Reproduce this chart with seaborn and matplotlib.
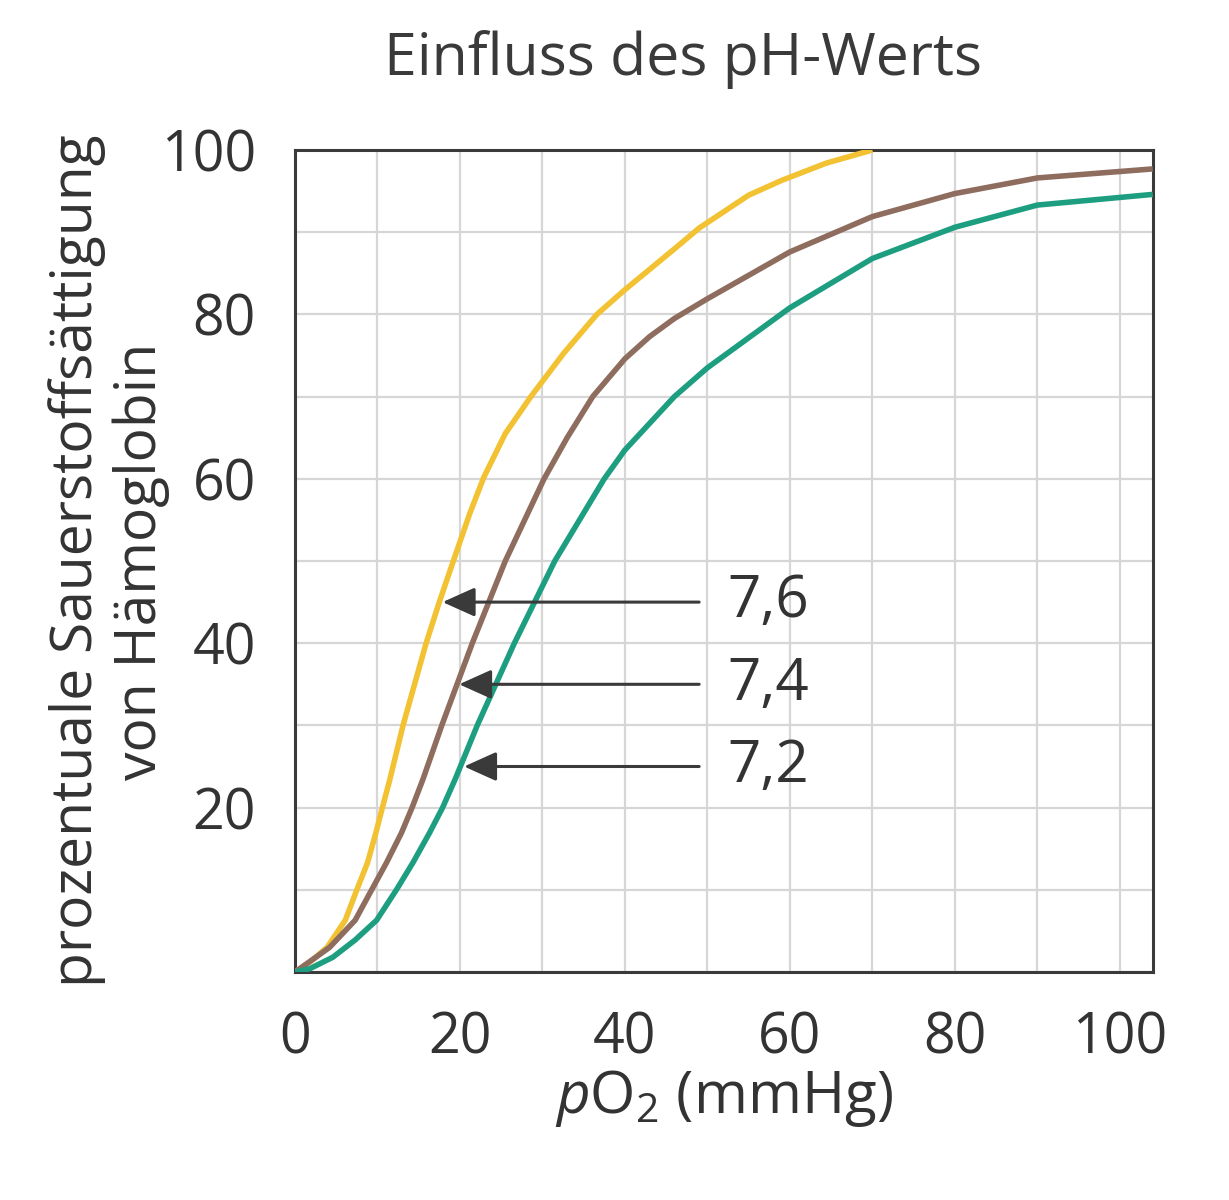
import numpy as np
import pandas as pd
import matplotlib
matplotlib.use("Agg")
import matplotlib.pyplot as plt
import seaborn as sns

# values (pO2 in mmHg, saturation in %)
po2_ph76 = [0, 1.8, 3.9, 6.1, 7.5, 8.8, 9.8, 10.6, 11.5, 13.1, 15.9, 17.5, 19.2, 21.2,
            22.9, 25.5, 28.6, 32.6, 36.6, 40, 45.8, 49, 55, 59, 64.4, 70]
sat_ph76 = [0, 1.2, 3.0, 6.3, 10, 13.3, 16.9, 20, 23.4, 30, 40, 45, 50, 55.8,
            60.2, 65.5, 70, 75.3, 80, 83, 87.8, 90.5, 94.5, 96.3, 98.4, 100]

po2_ph74 = [0, 2.4, 4.2, 7.3, 9.3, 11.1, 12.9, 14.2, 15.5, 17.8, 21.5, 25.5, 30.2,
            33, 36.1, 40, 43, 46, 50, 60, 70, 80, 90, 104]
sat_ph74 = [0, 1.7, 3.0, 6.3, 10, 13.3, 16.9, 20, 23.4, 30, 40, 50, 60,
            65, 70, 74.6, 77.3, 79.5, 81.9, 87.6, 91.9, 94.7, 96.6, 97.7]

po2_ph72 = [0, 1.8, 4.6, 7.3, 9.9, 12.3, 14.3, 16.3, 17.9, 19.4, 22.1, 26.6, 31.5,
            37.5, 40, 46, 50, 60, 70, 80, 90, 104]
sat_ph72 = [0, 0.4, 1.8, 3.9, 6.3, 10, 13.3, 16.9, 20, 23.4, 30, 40, 50,
            60, 63.5, 70, 73.5, 80.8, 86.8, 90.6, 93.3, 94.6]

ph_labels = ["7,6", "7,4", "7,2"]
arrow_tip_x = [17.9, 19.9, 20.5]
arrow_y = [45, 35, 25]
arrow_tail_x = 49
label_x = 52.4

colors = {"7,6": "#F2C232", "7,4": "#8E6D5F", "7,2": "#1E9E80"}

df = pd.concat([
    pd.DataFrame({"pO2": po2_ph76, "sat": sat_ph76, "pH": "7,6"}),
    pd.DataFrame({"pO2": po2_ph74, "sat": sat_ph74, "pH": "7,4"}),
    pd.DataFrame({"pO2": po2_ph72, "sat": sat_ph72, "pH": "7,2"}),
], ignore_index=True)

sns.set_theme(style="white")
plt.rcParams["font.family"] = ["Open Sans", "DejaVu Sans"]
plt.rcParams["mathtext.fontset"] = "custom"
plt.rcParams["mathtext.rm"] = "Open Sans"
plt.rcParams["mathtext.it"] = "Open Sans:italic"

dark = "#3a3a3a"
fig = plt.figure(figsize=(12.29, 12), dpi=100)
ax = fig.add_axes([0.240, 0.19, 0.698, 0.685])

sns.lineplot(data=df, x="pO2", y="sat", hue="pH", palette=colors,
             estimator=None, sort=False, legend=False, ax=ax, zorder=3)
for ln in ax.get_lines():
    ln.set_linewidth(4.0)
    ln.set_solid_joinstyle("round")
    ln.set_solid_capstyle("butt")

ax.set_xlim(0, 104)
ax.set_ylim(0, 100)
ax.set_xticks(np.arange(0, 101, 20))
ax.set_xticks(np.arange(10, 101, 20), minor=True)
ax.set_yticks(np.arange(0, 101, 20))
ax.set_yticks([10, 30, 50, 70, 90], minor=True)
ax.set_yticklabels(["", "20", "40", "60", "80", "100"])
ax.grid(which="both", color="#d6d6d6", linewidth=1.6)
ax.set_axisbelow(True)

for sp in ax.spines.values():
    sp.set_color(dark)
    sp.set_linewidth(2.2)

ax.tick_params(which="both", direction="out", length=18, width=2, color=dark,
               labelsize=40, labelcolor="#333333", pad=10)

# arrows and pH labels
for lab, tx, y in zip(ph_labels, arrow_tip_x, arrow_y):
    ax.annotate("", xy=(tx, y), xytext=(arrow_tail_x, y),
                arrowprops=dict(arrowstyle="-|>,head_length=1.0,head_width=0.45",
                                color=dark, lw=2.2, shrinkA=0, shrinkB=0,
                                mutation_scale=20), zorder=4)
    ax.text(label_x, y, lab, fontsize=42, color="#333333", ha="left", va="center")

ax.set_xlabel(r"$\mathit{p}\mathrm{O}_2$ (mmHg)", fontsize=42, color="#333333", labelpad=0)
ax.set_ylabel("prozentuale Sauerstoffsättigung\nvon Hämoglobin", fontsize=41,
              color="#333333", linespacing=1.15)
ax.yaxis.set_label_coords(-0.146, 0.5)

fig.text(0.556, 1 - 75 / 1200, "Einfluss des pH-Werts", ha="center", va="baseline",
         fontsize=42.5, color=dark)

fig.savefig("out.png", dpi=100, facecolor="white")
